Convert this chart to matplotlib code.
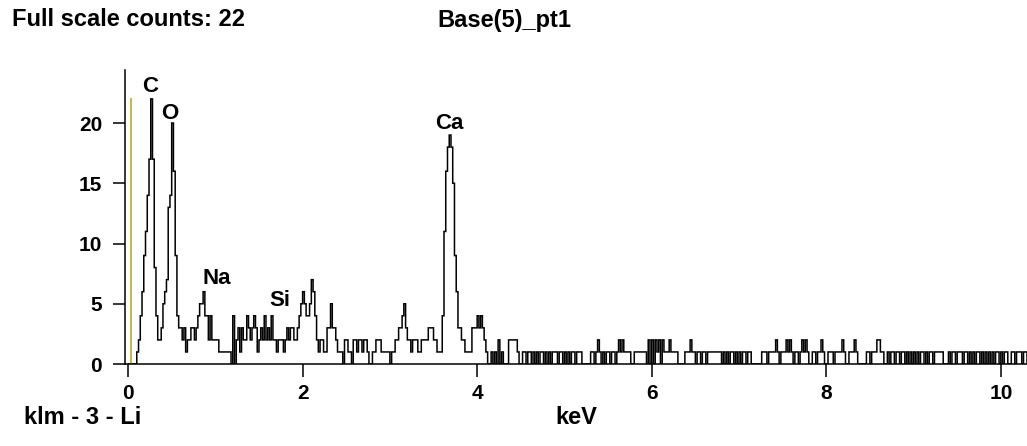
import numpy as np
import matplotlib
matplotlib.use('Agg')
import matplotlib.pyplot as plt
from matplotlib import font_manager

# spectrum counts, 0.02 keV channels starting at 0 keV
channel_kev = 0.02
counts_low = [0, 0, 0, 0, 0, 1, 2, 4, 6, 9,
              11, 14, 17, 22, 17, 8, 4, 2, 2, 3,
              5, 6, 7, 13, 14, 20, 16, 9, 4, 3,
              3, 2, 3, 1, 2, 2, 3, 3, 2, 3,
              4, 5, 5, 6, 4, 4, 2, 4, 2, 2,
              2, 2, 1, 1, 1, 1, 1, 1, 1, 0,
              4, 0, 2, 3, 1, 3, 2, 2, 4, 3,
              2, 3, 4, 3, 1, 2, 3, 2, 4, 2,
              3, 2, 4, 2, 2, 1, 2, 2, 2, 1,
              2, 3, 2, 3, 3, 2, 2, 3, 4, 5]
counts_mid = [6, 5, 4, 4, 5, 7, 6, 4, 2, 1,
              2, 2, 1, 1, 3, 3, 5, 3, 3, 2,
              1, 1, 1, 0, 2, 2, 1, 1, 0, 2,
              2, 1, 2, 2, 1, 2, 2, 1, 0, 0,
              1, 1, 2, 2, 2, 1, 1, 1, 1, 1,
              0, 1, 1, 2, 2, 3, 3, 4, 5, 3,
              2, 2, 1, 2, 2, 2, 1, 1, 2, 2,
              2, 2, 3, 3, 3, 2, 2, 1, 1, 1,
              4, 11, 16, 18, 19, 18, 15, 9, 6, 3,
              3, 2, 2, 1, 1, 1, 1, 3, 3, 3,
              4, 3, 4, 3, 2, 1]
counts_high = [0, 0, 1, 0, 1, 0, 2, 0, 1, 0, 0, 0, 2, 2, 2, 2, 2, 1, 0, 0,
               1, 1, 0, 1, 1, 0, 1, 0, 1, 0, 1, 1, 0, 1, 0, 1, 0, 1, 1, 1,
               0, 1, 1, 0,
               1, 0, 1, 0, 1, 1, 0, 1, 1, 1, 0, 0, 0, 0, 0, 1, 1, 0, 1, 2,
               1, 0, 1, 0, 1, 1, 0, 1, 1, 0, 1, 2, 1, 2, 1, 1, 1, 1, 0, 0,
               1, 1, 1, 1, 1, 1, 1, 0, 2, 0,
               2, 0, 2, 1, 2, 0, 2, 1, 1, 1, 2, 1, 1, 1, 1, 0, 0, 0, 0, 1,
               1, 1, 2, 1, 1, 0, 1, 1, 0, 1, 1, 0, 1, 1, 1, 1, 1, 1, 1, 1,
               0, 1, 0, 1, 0, 1, 1, 0, 1, 0,
               1, 0, 1, 1, 0, 1, 1, 0, 0, 0, 0, 0, 0, 1, 1, 1, 0, 1, 1, 1,
               1, 2, 1, 0, 1, 1, 1, 2, 1, 2, 1, 0, 1, 1, 0, 1, 2, 1, 2, 1,
               0, 0, 1, 1, 0, 1, 1, 2, 1, 0,
               0, 1, 1, 1, 0, 1, 1, 1, 1, 2, 1, 0, 0, 1, 1, 1, 2, 1, 0, 0,
               0, 0, 0, 1, 1, 0, 1, 1, 1, 2, 2, 1, 1, 0, 0, 1, 0, 1, 1, 0,
               1, 1, 0, 1, 1, 0, 1, 0, 1, 0,
               1, 0, 1, 0, 1, 1, 0, 1, 0, 1, 1, 0, 1, 1, 1, 1, 1, 0, 0, 0,
               1, 0, 1, 1, 0, 1, 1, 1, 0, 1, 1, 0, 1, 0, 1, 0, 1, 1, 0, 1,
               0, 1, 0, 1, 0, 1, 0, 1, 1, 0, 1, 0, 1, 1, 0, 0, 1, 1, 0, 1,
               1, 1, 0, 1, 1, 0, 1, 1]

# element labels
elements = ['C', 'O', 'Na', 'Si', 'Ca']
label_kev = [0.25, 0.48, 1.02, 1.74, 3.68]
label_counts = [23.0, 20.8, 7.1, 5.3, 20.0]

full_scale = 22
marker_kev = 0.035
xticks = [0, 2, 4, 6, 8, 10]
yticks = [0, 5, 10, 15, 20]

names = {f.name for f in font_manager.fontManager.ttflist}
fam = 'Liberation Sans' if 'Liberation Sans' in names else 'DejaVu Sans'
plt.rcParams['font.family'] = fam
plt.rcParams['font.weight'] = 'bold'

counts = np.array(counts_low + counts_mid + counts_high)
edges = np.arange(len(counts) + 1) * channel_kev

fig = plt.figure(figsize=(10.27, 4.46), dpi=100)
ax = fig.add_axes([125 / 1027, 82 / 446, 902 / 1027, 294 / 446])

ax.plot([marker_kev, marker_kev], [0, full_scale], color='#c8b848', lw=1.4)
ax.stairs(counts, edges, color='black', lw=1.1, baseline=None)

for name, x, y in zip(elements, label_kev, label_counts):
    ax.text(x, y, name, ha='center', va='center', fontsize=16, fontweight='bold')

ax.set_xlim(-0.035, 10.30)
ax.set_ylim(0, 24.4)
ax.set_xticks(xticks)
ax.set_yticks(yticks)
ax.tick_params(axis='both', direction='out', labelsize=15, width=1.1, color='black')
ax.tick_params(axis='x', length=9.5, pad=5)
ax.tick_params(axis='y', length=8.5, pad=8)
for s in ['top', 'right']:
    ax.spines[s].set_visible(False)
for s in ['left', 'bottom']:
    ax.spines[s].set_linewidth(1.1)

fig.text(12 / 1027, 1 - 20 / 446, 'Full scale counts: %d' % full_scale,
         fontsize=17, fontweight='bold', va='center', ha='left')
fig.text(437 / 1027, 1 - 20 / 446, 'Base(5)_pt1',
         fontsize=17, fontweight='bold', va='center', ha='left')
fig.text(24 / 1027, 1 - 418 / 446, 'klm - 3 - Li',
         fontsize=17, fontweight='bold', va='center', ha='left')
fig.text(576 / 1027, 1 - 418 / 446, 'keV',
         fontsize=17, fontweight='bold', va='center', ha='center')

fig.savefig('out.png', dpi=100)
